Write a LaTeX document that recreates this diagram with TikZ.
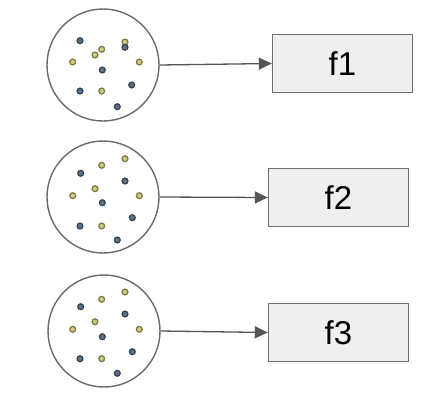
\documentclass[tikz,border=0pt]{standalone}
\usepackage{fontspec}
\setmainfont{Liberation Sans}
\usetikzlibrary{arrows.meta}
\definecolor{ringc}{HTML}{6A6A6A}
\definecolor{boxfill}{HTML}{EFEFEF}
\definecolor{boxline}{HTML}{707070}
\definecolor{arrc}{HTML}{555555}
\definecolor{ydraw}{HTML}{7E7C44}
\definecolor{yfill}{HTML}{D4CC82}
\definecolor{bdraw}{HTML}{36444F}
\definecolor{bfill}{HTML}{587490}
\tikzset{
  bag/.style={circle, draw=ringc, line width=1.4pt, minimum size=112pt, inner sep=0pt},
  fbox/.style={rectangle, draw=boxline, fill=boxfill, line width=1.4pt, minimum width=140pt, minimum height=58pt, inner sep=0pt, font=\fontsize{33}{36}\selectfont},
  conn/.style={draw=arrc, line width=1.3pt, -{Triangle[length=13pt,width=12pt]}},
  ydot/.style={circle, draw=ydraw, fill=yfill, line width=1.3pt, minimum size=5.8pt, inner sep=0pt},
  bdot/.style={circle, draw=bdraw, fill=bfill, line width=1.3pt, minimum size=5.8pt, inner sep=0pt}
}
\begin{document}
\begin{tikzpicture}[x=1pt,y=-1pt]
\useasboundingbox (0,0) rectangle (444,418);
% bags
\node[bag] (c1) at (103,65) {};
\node[bag] (c2) at (103,197) {};
\node[bag] (c3) at (104,331) {};
% boxes
\node[fbox] (f1) at (342.5,63.5) {f1};
\node[fbox] (f2) at (338.5,197.5) {f2};
\node[fbox] (f3) at (338.5,332.5) {f3};
% connectors
\draw[conn] (c1.east) -- (f1.west);
\draw[conn] (c2.east) -- (f2.west);
\draw[conn] (c3.east) -- (f3.west);
% dots bag 1
\foreach \x/\y/\s [count=\i] in {80/40.7/b,101.7/49.3/y,95/55/y,125/42/y,125/47.3/b,72.7/62/y,139.3/62/y,102.3/70/b,80/91/b,101.7/91/y,131.7/85/b,117.3/106.7/b}
  \node[\s dot] (da\i) at (\x,\y) {};
% dots bag 2
\foreach \x/\y/\s [count=\i] in {125/158.7/y,101.7/165.3/y,80.7/173.3/b,125/181/b,95/188.7/y,72.7/195.7/y,139.3/195.7/y,102.3/202.7/b,132.3/217.7/b,80/226/b,101.7/226/y,117.3/240/b}
  \node[\s dot] (db\i) at (\x,\y) {};
% dots bag 3
\foreach \x/\y/\s [count=\i] in {125/292/y,101.7/299.3/y,80.7/306.7/b,125/314/b,95/321.7/y,72.7/329.3/y,139.3/329.3/y,102.3/336.7/b,132.3/351.7/b,80/358.7/b,101.7/358.7/y,117.3/373.3/b}
  \node[\s dot] (dc\i) at (\x,\y) {};
\end{tikzpicture}
\end{document}
